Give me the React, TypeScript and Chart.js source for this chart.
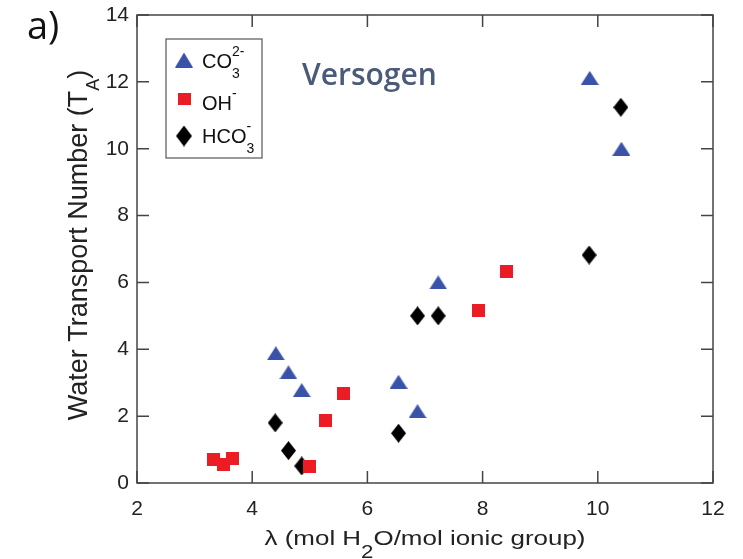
import React, { useEffect, useRef } from "react";
import { Chart, registerables } from "chart.js";

Chart.register(...registerables);

// ---- data ----
const xTicks = [2, 4, 6, 8, 10, 12];
const yTicks = [0, 2, 4, 6, 8, 10, 12, 14];

const co3X = [4.41, 4.63, 4.86, 6.54, 6.87, 7.23, 9.86, 10.41];
const co3Y = [3.88, 3.31, 2.78, 3.03, 2.15, 6.0, 12.12, 10.0];
const ohX = [3.32, 3.5, 3.66, 5.0, 5.28, 5.58, 7.93, 8.42];
const ohY = [0.69, 0.54, 0.74, 0.49, 1.88, 2.68, 5.15, 6.32];
const hco3X = [4.4, 4.63, 4.86, 6.54, 6.87, 7.23, 9.85, 10.4];
const hco3Y = [1.8, 0.97, 0.51, 1.49, 5.0, 5.0, 6.82, 11.24];

const seriesNames = ["CO", "OH", "HCO"];
const seriesSup = ["2-", "-", "-"];
const seriesSub = ["3", "", "3"];

const xTitleMain = "λ (mol H";
const xTitleSub = "2";
const xTitleRest = "O/mol ionic group)";
const yTitleMain = "Water Transport Number (T";
const yTitleSub = "A";
const yTitleRest = ")";
const panelLabel = "a)";
const brandText = "Versogen";

// ---- styles ----
const FONT = "'Liberation Sans', Arial, sans-serif";
const BLUE = "#3a53a8";
const RED = "#ec1c24";
const BLACK = "#000000";
const FRAME = "#444444";

function makeMarker(kind: string, w: number, h: number, color: string) {
  const c = document.createElement("canvas");
  c.width = w;
  c.height = h;
  const g = c.getContext("2d")!;
  g.fillStyle = color;
  g.beginPath();
  if (kind === "tri") {
    g.moveTo(w / 2, 0);
    g.lineTo(w, h);
    g.lineTo(0, h);
  } else if (kind === "dia") {
    g.moveTo(w / 2, 0);
    g.lineTo(w, h / 2);
    g.lineTo(w / 2, h);
    g.lineTo(0, h / 2);
  } else {
    g.rect(0, 0, w, h);
  }
  g.closePath();
  g.fill();
  return c;
}

function toPts(xs: number[], ys: number[]) {
  return xs.map((x, i) => ({ x, y: ys[i] }));
}

export default function App() {
  const ref = useRef<HTMLCanvasElement | null>(null);

  useEffect(() => {
    if (!ref.current) return;
    const tri = makeMarker("tri", 18, 14, BLUE);
    const sq = makeMarker("sq", 13, 13, RED);
    const dia = makeMarker("dia", 15, 19, BLACK);
    const legTri = makeMarker("tri", 18, 15, BLUE);
    const legSq = makeMarker("sq", 13, 12, RED);
    const legDia = makeMarker("dia", 16, 21, BLACK);

    const overlay = {
      id: "overlay",
      afterDraw(chart: any) {
        const ctx = chart.ctx as CanvasRenderingContext2D;
        const { left, right, top, bottom } = chart.chartArea;
        const xs = chart.scales.x;
        const ys = chart.scales.y;
        ctx.save();
        // frame
        ctx.strokeStyle = FRAME;
        ctx.lineWidth = 1.5;
        ctx.strokeRect(left, top, right - left, bottom - top);
        const tl = 12;
        ctx.beginPath();
        xTicks.forEach((v) => {
          const px = xs.getPixelForValue(v);
          ctx.moveTo(px, bottom);
          ctx.lineTo(px, bottom - tl);
          ctx.moveTo(px, top);
          ctx.lineTo(px, top + tl);
        });
        yTicks.forEach((v) => {
          const py = ys.getPixelForValue(v);
          ctx.moveTo(left, py);
          ctx.lineTo(left + tl, py);
          ctx.moveTo(right, py);
          ctx.lineTo(right - tl, py);
        });
        ctx.stroke();

        // x title
        ctx.fillStyle = "#222";
        ctx.textBaseline = "alphabetic";
        ctx.textAlign = "left";
        const mainF = `21px ${FONT}`;
        const subF = `18px ${FONT}`;
        ctx.font = mainF;
        const w1 = ctx.measureText(xTitleMain).width;
        const w3 = ctx.measureText(xTitleRest).width;
        ctx.font = subF;
        const w2 = ctx.measureText(xTitleSub).width;
        const total = w1 + w2 + w3;
        const targetW = 321;
        const cx = (left + right) / 2;
        ctx.save();
        ctx.translate(cx - targetW / 2, 545);
        ctx.scale(targetW / total, 1);
        ctx.font = mainF;
        ctx.fillText(xTitleMain, 0, 0);
        ctx.font = subF;
        ctx.fillText(xTitleSub, w1, 13);
        ctx.font = mainF;
        ctx.fillText(xTitleRest, w1 + w2, 0);
        ctx.restore();

        // y title
        const yMainF = `27px ${FONT}`;
        const ySubF = `18px ${FONT}`;
        ctx.font = yMainF;
        const v1 = ctx.measureText(yTitleMain).width;
        const v3 = ctx.measureText(yTitleRest).width;
        ctx.font = ySubF;
        const v2 = ctx.measureText(yTitleSub).width;
        const vtot = v1 + v2 + v3;
        const cy = (top + bottom) / 2 - 4;
        ctx.save();
        ctx.translate(87, cy + vtot / 2);
        ctx.rotate(-Math.PI / 2);
        ctx.font = yMainF;
        ctx.fillText(yTitleMain, 0, 0);
        ctx.font = ySubF;
        ctx.fillText(yTitleSub, v1, 12);
        ctx.font = yMainF;
        ctx.fillText(yTitleRest, v1 + v2, 0);
        ctx.restore();

        // legend
        ctx.fillStyle = "#fff";
        ctx.fillRect(166, 39, 96, 119);
        ctx.strokeStyle = "#555";
        ctx.lineWidth = 1.2;
        ctx.strokeRect(166, 39, 96, 119);
        const legMarkers = [legTri, legSq, legDia];
        const rowsY = [60, 99, 136];
        const baseY = [68, 110, 143];
        seriesNames.forEach((name, i) => {
          const m = legMarkers[i];
          ctx.drawImage(m, 184 - m.width / 2, rowsY[i] - m.height / 2);
          ctx.fillStyle = "#111";
          ctx.font = `20px ${FONT}`;
          ctx.fillText(name, 202, baseY[i]);
          const nw = ctx.measureText(name).width;
          ctx.font = `14px ${FONT}`;
          if (seriesSup[i]) ctx.fillText(seriesSup[i], 202 + nw, baseY[i] - 12);
          if (seriesSub[i]) ctx.fillText(seriesSub[i], 202 + nw, baseY[i] + 10);
        });

        // brand text
        ctx.fillStyle = "#4a5b7a";
        ctx.font = `600 30px 'Open Sans', sans-serif`;
        ctx.fillText(brandText, 302, 85);

        // panel label
        ctx.fillStyle = "#111";
        ctx.font = `38px 'Open Sans', sans-serif`;
        ctx.fillText(panelLabel, 27, 39);
        ctx.restore();
      },
    };

    const chart = new Chart(ref.current, {
      type: "scatter",
      data: {
        datasets: [
          { label: "CO3", data: toPts(co3X, co3Y), pointStyle: tri as any, pointRadius: 9 },
          { label: "OH", data: toPts(ohX, ohY), pointStyle: sq as any, pointRadius: 7 },
          { label: "HCO3", data: toPts(hco3X, hco3Y), pointStyle: dia as any, pointRadius: 9 },
        ],
      },
      options: {
        animation: false,
        responsive: true,
        maintainAspectRatio: false,
        layout: { padding: { top: 15, right: 30, left: 0, bottom: 0 } },
        plugins: { legend: { display: false }, tooltip: { enabled: false } },
        scales: {
          x: {
            type: "linear",
            min: 2,
            max: 12,
            afterBuildTicks: (s: any) => {
              s.ticks = xTicks.map((v) => ({ value: v }));
            },
            afterFit: (s: any) => {
              s.height = 76;
            },
            grid: { display: false, drawTicks: false },
            border: { display: false },
            ticks: { font: { family: FONT, size: 21 }, color: "#222", padding: 14, maxRotation: 0 },
          },
          y: {
            type: "linear",
            min: 0,
            max: 14,
            afterBuildTicks: (s: any) => {
              s.ticks = yTicks.map((v) => ({ value: v }));
            },
            afterFit: (s: any) => {
              s.width = 137;
            },
            grid: { display: false, drawTicks: false },
            border: { display: false },
            ticks: { font: { family: FONT, size: 21, lineHeight: 0.5 }, color: "#222", padding: 8 },
          },
        },
      },
      plugins: [overlay],
    });
    return () => chart.destroy();
  }, []);

  return (
    <div style={{ position: "absolute", left: 0, top: 0, width: 743, height: 559, background: "#fff" }}>
      <canvas ref={ref} />
    </div>
  );
}
